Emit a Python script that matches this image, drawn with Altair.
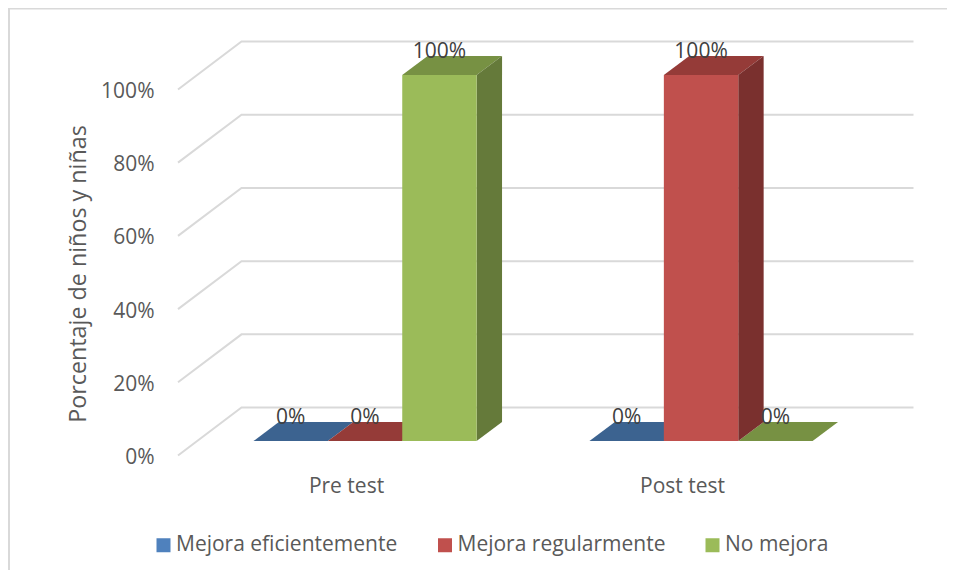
import altair as alt
import pandas as pd

categories = ["Pre test", "Post test"]
series = ["Mejora eficientemente", "Mejora regularmente", "No mejora"]
values_pre = [0, 0, 100]
values_post = [0, 100, 0]
front_colors = ["#4F81BD", "#C0504D", "#9BBB59"]
top_colors = ["#3C6390", "#953B38", "#779143"]
side_colors = ["#325479", "#7A302E", "#657A3A"]
ticks = [0, 20, 40, 60, 80, 100]

BAR_W = 0.2214      # one bar, in category units
WALL_DX = 0.189     # depth of the oblique floor, category units
WALL_DY = 13.1      # depth of the oblique floor, percent units
D_FRONT, D_BACK = 0.3, 0.7
X_MIN, X_MAX = -0.5, 1.689
Y_MAX = 113.1
FONT = "Open Sans"

fronts, tops, sides, grid = [], [], [], []
for i, vals in enumerate([values_pre, values_post]):
    for j, v in enumerate(vals):
        x0 = i + (j - 1.5) * BAR_W + D_FRONT * WALL_DX
        x1 = x0 + BAR_W
        ddx = (D_BACK - D_FRONT) * WALL_DX
        ddy = (D_BACK - D_FRONT) * WALL_DY
        base = D_FRONT * WALL_DY
        fronts.append(dict(s=series[j], x=x0, x2=x1, y=base, y2=v + base, xm=(x0 + x1) / 2,
                           label=f"{v}%"))
        key = f"{i}-{j}"
        tops += [dict(k=key, c=top_colors[j], y=v + base, x=x0, x2=x1),
                 dict(k=key, c=top_colors[j], y=v + base + ddy, x=x0 + ddx, x2=x1 + ddx)]
        if v > 0:
            sides += [dict(k=key, c=side_colors[j], x=x1, y=base, y2=v + base),
                      dict(k=key, c=side_colors[j], x=x1 + ddx, y=base + ddy, y2=v + base + ddy)]

for t in ticks:
    grid += [dict(t=t, o=0, x=X_MIN, y=t),
             dict(t=t, o=1, x=X_MIN + WALL_DX, y=t + WALL_DY),
             dict(t=t, o=2, x=X_MAX, y=t + WALL_DY)]

x_scale = alt.Scale(domain=[X_MIN, X_MAX], nice=False, zero=False)
y_scale = alt.Scale(domain=[0, Y_MAX], nice=False, zero=False)

label_expr = "datum.value == 0 ? '%s' : '%s'" % (categories[0], categories[1])
x_axis = alt.Axis(values=[0, 1], labelExpr=label_expr, title=None, domain=False, ticks=False,
                  grid=False, labelFontSize=21, labelColor="#595959", labelFont=FONT,
                  labelPadding=20, labelFlush=False)
y_axis = alt.Axis(values=ticks, labelExpr="datum.value + '%'", title="Porcentaje de niños y niñas",
                  domain=False, ticks=False, grid=False, labelFontSize=21, labelColor="#595959",
                  labelFont=FONT, labelPadding=24, labelOffset=2, titleFont=FONT, titleFontSize=23.3,
                  titleFontWeight="normal", titleColor="#595959", titleX=-88, titleY=232)

marker = pd.DataFrame({"a": [0]})
frame_top = alt.Chart(marker).mark_rule(color="#D9D9D9", strokeWidth=2).encode(
    x=alt.value(-170), x2=alt.value(770), y=alt.value(-33)
)
frame_left = alt.Chart(marker).mark_rule(color="#D9D9D9", strokeWidth=2).encode(
    x=alt.value(-169), y=alt.value(-34), y2=alt.value(530)
)

grid_layer = alt.Chart(pd.DataFrame(grid)).mark_line(color="#D9D9D9", strokeWidth=2).encode(
    x=alt.X("x:Q", scale=x_scale, axis=x_axis),
    y=alt.Y("y:Q", scale=y_scale, axis=y_axis),
    detail="t:N", order="o:Q",
)
top_layer = alt.Chart(pd.DataFrame(tops)).mark_area(orient="horizontal", opacity=1).encode(
    y=alt.Y("y:Q", scale=y_scale),
    x=alt.X("x:Q", scale=x_scale, stack=None),
    x2="x2:Q",
    detail="k:N",
    fill=alt.Fill("c:N", scale=None),
)
side_layer = alt.Chart(pd.DataFrame(sides)).mark_area(orient="vertical", opacity=1).encode(
    x=alt.X("x:Q", scale=x_scale),
    y=alt.Y("y:Q", scale=y_scale, stack=None),
    y2="y2:Q",
    detail="k:N",
    fill=alt.Fill("c:N", scale=None),
)
front_df = pd.DataFrame(fronts)
front_layer = alt.Chart(front_df).mark_rect(opacity=1).encode(
    x=alt.X("x:Q", scale=x_scale),
    x2="x2:Q",
    y=alt.Y("y:Q", scale=y_scale),
    y2="y2:Q",
    color=alt.Color("s:N", scale=alt.Scale(domain=series, range=front_colors),
                    legend=alt.Legend(title=None, orient="none", legendX=-25, legendY=493,
                                      direction="horizontal", columns=3, symbolType="square",
                                      symbolSize=196, symbolStrokeWidth=0, labelFont=FONT,
                                      labelFontSize=21, labelColor="#595959", labelLimit=400,
                                      columnPadding=36.5, labelOffset=2, gridAlign="each")),
)
label_layer = alt.Chart(front_df).mark_text(
    font=FONT, fontSize=21, color="#404040", baseline="alphabetic", align="center", dy=-17.5
).encode(
    x=alt.X("xm:Q", scale=x_scale),
    y=alt.Y("y2:Q", scale=y_scale),
    text="label:N",
)

chart = alt.layer(frame_top, frame_left, grid_layer, top_layer, side_layer, front_layer,
                  label_layer).properties(
    width=735.5, height=414,
    autosize=alt.AutoSizeParams(type="none"),
    padding={"left": 170, "top": 33.5, "right": 33.5, "bottom": 114},
    background="white",
).configure_view(strokeWidth=0, stroke="transparent")

chart.save("out.html", embed_options={"renderer": "svg", "actions": False})
